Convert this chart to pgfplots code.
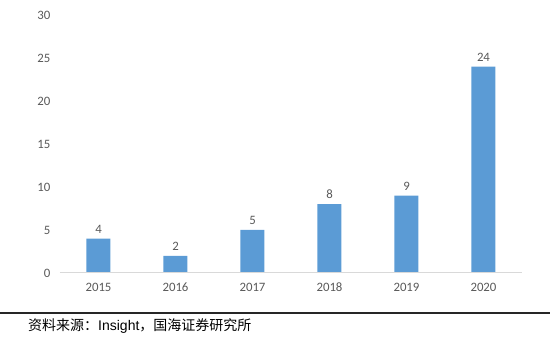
\documentclass[border=0pt]{standalone}
\usepackage{fontspec}
\setmainfont[Numbers=Lining]{Carlito}
\newfontfamily\cjk{Noto Sans CJK SC}
\newfontfamily\arialf{Liberation Sans}
\usepackage{pgfplots}
\pgfplotsset{compat=1.18}
\definecolor{barblue}{HTML}{5B9BD5}
\definecolor{ticktxt}{HTML}{595959}
\definecolor{axgray}{HTML}{D9D9D9}
\begin{document}
\begin{tikzpicture}[x=1pt,y=1pt]
\useasboundingbox (0,0) rectangle (550,337);
\begin{axis}[
  at={(60pt,64pt)}, anchor=south west,
  scale only axis, width=462pt, height=258pt,
  xmin=-0.5, xmax=5.5, ymin=0, ymax=30,
  ytick={0,5,10,15,20,25,30},
  xtick={0,1,2,3,4,5},
  xticklabels={2015,2016,2017,2018,2019,2020},
  axis line style={draw=none},
  major tick length=0pt,
  tick label style={font=\fontsize{12.8}{14}\selectfont, text=ticktxt},
  /pgf/number format/assume math mode=true,
  yticklabel style={xshift=-6pt},
  xticklabel style={yshift=-6pt, text height=9pt, text depth=0pt},
  clip=false,
  ybar, bar width=24pt,
  nodes near coords,
  every node near coord/.append style={font=\fontsize{12.8}{14}\selectfont, text=ticktxt, yshift=2pt, text height=9pt, text depth=0pt},
]
\addplot[fill=barblue, draw=none] coordinates {(0,4) (1,2) (2,5) (3,8) (4,9) (5,24)};
\draw[axgray, line width=1pt] (rel axis cs:0,0) -- (rel axis cs:1,0);
\end{axis}
\draw[black!85, line width=1.3pt] (0,24) -- (550,24);
\node[anchor=west, inner sep=0pt] at (28,11) {\fontsize{14}{16}\selectfont\cjk 资料来源：\arialf Insight\cjk ，国海证券研究所};
\end{tikzpicture}
\end{document}
